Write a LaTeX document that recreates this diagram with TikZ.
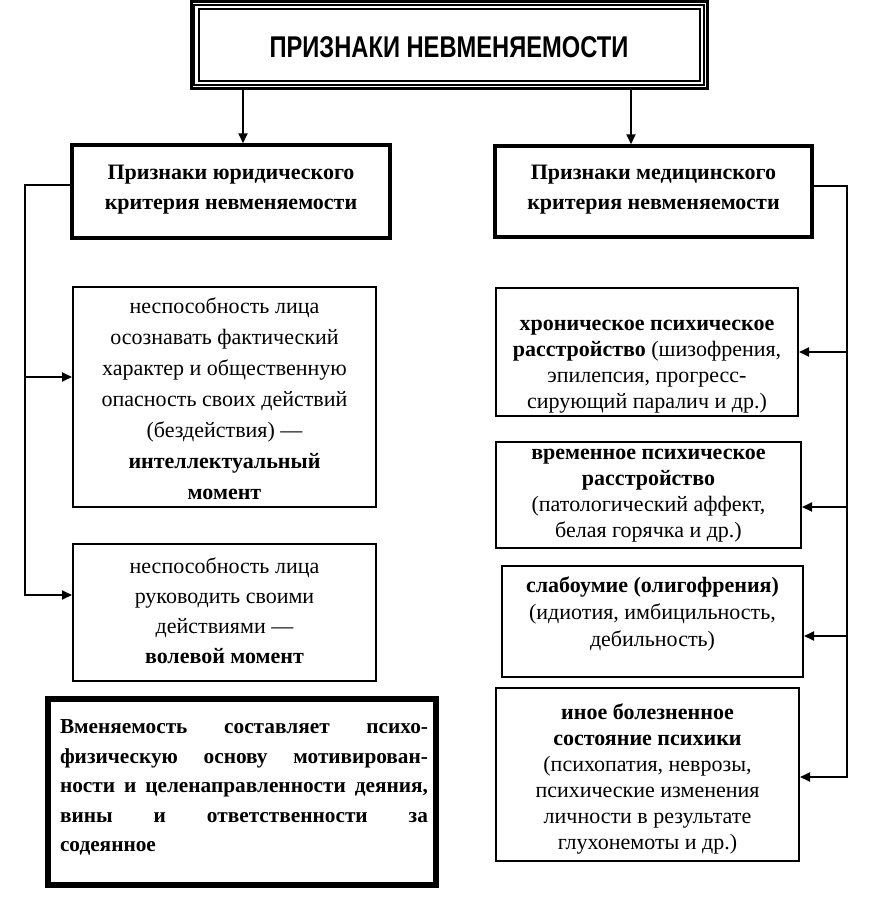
\documentclass[tikz,border=0pt]{standalone}
\usepackage{fontspec}
\setmainfont{Liberation Serif}
\newfontfamily\headfont{Liberation Sans}
\usepackage{graphicx}
\usepackage{tikz}
\usetikzlibrary{arrows.meta}

% one full-width line of the justified note
\newcommand{\jline}[1]{\makebox[368pt][s]{#1}}

\begin{document}
\begin{tikzpicture}[x=1pt, y=-1pt,
    frame/.style={draw, line width=2pt, inner sep=0pt},
    headframe/.style={frame, line width=3.5pt},
    txt/.style={align=center, inner sep=0pt, execute at begin node=\strut, execute at end node=\strut},
    lefttext/.style={txt, font=\fontsize{22}{31}\selectfont},
    headtext/.style={txt, font=\fontsize{22}{30}\selectfont\bfseries},
    sidetext/.style={txt, font=\fontsize{22}{26}\selectfont},
    arr/.style={line width=1.8pt, -{Triangle[length=10pt,width=9pt]}}]
    \useasboundingbox (0,0) rectangle (871,899);

    % Title with a triple frame
    \node[draw, line width=3pt, inner sep=0pt, minimum width=516pt, minimum height=86pt] (title) at (449,45) {};
    \draw[line width=1.2pt] ([shift={(4.5,4.5)}]title.north west) rectangle ([shift={(-4.5,-4.5)}]title.south east);
    \draw[line width=2pt] ([shift={(9,9)}]title.north west) rectangle ([shift={(-9,-9)}]title.south east);
    \node[inner sep=0pt] (titletext) at (449,47)
        {\headfont\bfseries\fontsize{30}{30}\selectfont\scalebox{0.79}[1]{ПРИЗНАКИ НЕВМЕНЯЕМОСТИ}};

    % Two criteria
    \node[headframe, minimum width=318pt, minimum height=93pt] (lhead) at (231,191.5) {};
    \node[headtext] (lheadtext) at (231,192) {Признаки юридического\\критерия невменяемости};
    \node[headframe, minimum width=317pt, minimum height=91pt] (rhead) at (653.5,191.5) {};
    \node[headtext] (rheadtext) at (653.5,192) {Признаки медицинского\\критерия невменяемости};

    \coordinate (t1) at (243,0);
    \coordinate (t2) at (631,0);
    \draw[arr] (title.south -| t1) -- (lhead.north -| t1);
    \draw[arr] (title.south -| t2) -- (rhead.north -| t2);

    % Juridical criterion
    \node[frame, minimum width=303pt, minimum height=220pt] (lbox1) at (224.5,397) {};
    \node[lefttext] (ltext1) at (224.5,403)
        {неспособность лица\\осознавать фактический\\характер и общественную\\опасность своих действий\\(бездействия) ---\\\textbf{интеллектуальный}\\\textbf{момент}};
    \node[frame, minimum width=303pt, minimum height=137pt] (lbox2) at (224.5,612.5) {};
    \node[lefttext, font=\fontsize{22}{30}\selectfont] (ltext2) at (224.5,615)
        {неспособность лица\\руководить своими\\действиями ---\\\textbf{волевой момент}};

    % Note with a double frame
    \node[draw, line width=4pt, inner sep=0pt, minimum width=390pt, minimum height=188pt] (note) at (242,792) {};
    \draw[line width=1.5pt] ([shift={(5,5)}]note.north west) rectangle ([shift={(-5,-5)}]note.south east);
    \node[txt, text width=368pt, align=left, font=\fontsize{21.3}{29.5}\selectfont\bfseries] (notetext) at (244,787)
        {\jline{Вменяемость\hfill составляет\hfill психо-}\\
         \jline{физическую\hfill основу\hfill мотивирован-}\\
         \jline{ности\hfill и\hfill целенаправленности\hfill деяния,}\\
         \jline{вины\hfill и\hfill ответственности\hfill за}\\
         содеянное};

    % Medical criterion
    \node[frame, minimum width=302pt, minimum height=128pt] (rbox1) at (647,352) {};
    \node[sidetext] (rtext1) at (647,368)
        {\textbf{хроническое психическое}\\\textbf{расстройство} (шизофрения,\\эпилепсия, прогресс-\\сирующий паралич и др.)};
    \node[frame, minimum width=305pt, minimum height=106pt] (rbox2) at (648.5,495) {};
    \node[sidetext] (rtext2) at (648.5,497)
        {\textbf{временное психическое}\\\textbf{расстройство}\\(патологический аффект,\\белая горячка и др.)};
    \node[frame, minimum width=301pt, minimum height=111pt] (rbox3) at (652.5,621.5) {};
    \node[sidetext, font=\fontsize{22}{27}\selectfont] (rtext3) at (652.5,615.5)
        {\textbf{слабоумие (олигофрения)}\\(идиотия, имбицильность,\\дебильность)};
    \node[frame, minimum width=303pt, minimum height=173pt] (rbox4) at (647.5,774.5) {};
    \node[sidetext] (rtext4) at (647.5,780.5)
        {\textbf{иное болезненное}\\\textbf{состояние психики}\\(психопатия, неврозы,\\психические изменения\\личности в результате\\глухонемоты и др.)};

    % Left spine
    \coordinate (lspine) at (25,0);
    \coordinate (lh) at ([yshift=6.5pt]lhead.west);
    \coordinate (la) at ([yshift=20pt]lbox1.west);
    \coordinate (lb) at ([yshift=17.5pt]lbox2.west);
    \draw[arr] (lh) -| (lspine |- lb) -- (lb);
    \draw[arr] (lspine |- la) -- (la);

    % Right spine
    \coordinate (rspine) at (847,0);
    \coordinate (rh) at ([yshift=5.5pt]rhead.east);
    \coordinate (ra) at (rbox1.east);
    \coordinate (rb) at ([yshift=-12pt]rbox2.east);
    \coordinate (rc) at ([yshift=-14.5pt]rbox3.east);
    \coordinate (rd) at ([yshift=-2.5pt]rbox4.east);
    \draw[arr] (rh) -| (rspine |- rd) -- (rd);
    \draw[arr] (rspine |- ra) -- (ra);
    \draw[arr] (rspine |- rb) -- (rb);
    \draw[arr] (rspine |- rc) -- (rc);
\end{tikzpicture}
\end{document}
